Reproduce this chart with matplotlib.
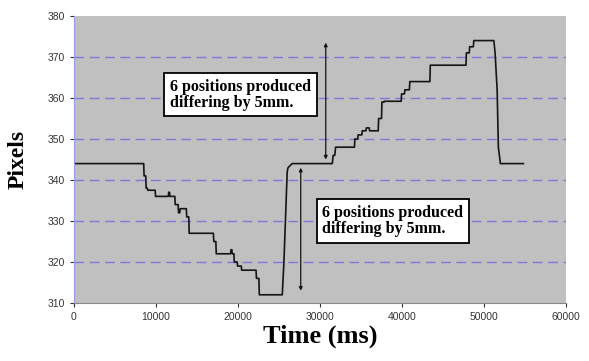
import matplotlib.pyplot as plt

# trace (time in ms, position in pixels)
time_ms = [0, 8500, 8550, 8750, 8800, 8950, 9000, 9900, 9950, 11500, 11550, 11650,
           11700, 12300, 12350, 12700, 12750, 12900, 12950, 13700, 13750, 14000,
           14050, 17000, 17050, 17300, 17350, 19100, 19150, 19250, 19300, 19500,
           19550, 19900, 19950, 20400, 20450, 22200, 22250, 22550, 22600, 25400,
           25600, 25800, 26000, 26100, 26600, 31500, 31600, 31800, 31900, 34200,
           34250, 34600, 34650, 35100, 35150, 35600, 35650, 36000, 36050, 37100,
           37150, 37500, 37550, 37800, 37850, 39900, 39950, 40300, 40350, 40900,
           40950, 43400, 43450, 47800, 47850, 48200, 48250, 48700, 48750, 51200,
           51350, 51600, 51750, 52000, 54800]
pixels = [344, 344, 341, 341, 338, 338, 337.5, 337.5, 336, 336, 337, 337,
          336, 336, 334, 334, 332, 332, 333, 333, 331, 331,
          327, 327, 325, 325, 322, 322, 323, 323, 322, 322,
          320, 320, 319, 319, 318, 318, 316, 316, 312, 312,
          320, 331, 342, 343, 344, 344, 346, 346, 348, 348,
          350, 350, 351, 351, 352, 352, 352.7, 352.7, 352, 352,
          355, 355, 359, 359, 359.2, 359.2, 361, 361, 362, 362,
          364, 364, 368, 368, 371, 371, 372.5, 372.5, 374, 374,
          371, 362, 348, 344, 344]

box_text = "6 positions produced\ndiffering by 5mm."
arrow_up = (30700, 345, 373.5)    # x, bottom, top
arrow_down = (27650, 313, 343)

fig = plt.figure(figsize=(5.89, 3.61), dpi=100)
ax = fig.add_axes([0.1256, 0.1607, 0.8354, 0.795])
ax.set_facecolor('#c0c0c0')

for y in range(320, 371, 10):
    ax.axhline(y, color='#8078d8', linestyle=(0, (7, 4)), linewidth=1.0, zorder=0.5)

ax.plot(time_ms, pixels, color='#151515', lw=1.2)

ax.set_xlim(0, 60000)
ax.set_ylim(310, 380)
ax.set_xticks(range(0, 60001, 10000))
ax.set_yticks(range(310, 381, 10))
ax.tick_params(labelsize=7.5, colors='#333333', length=3, width=0.8)
for lbl in ax.get_xticklabels() + ax.get_yticklabels():
    lbl.set_fontfamily('Liberation Sans')

for s in ['top', 'right']:
    ax.spines[s].set_visible(False)
ax.spines['left'].set_color('#9a9ae0')
ax.spines['bottom'].set_color('#888888')

ax.set_xlabel('Time (ms)', fontsize=19, fontweight='bold', family='Liberation Serif', labelpad=2)
ax.set_ylabel('Pixels', fontsize=17, fontweight='bold', family='Liberation Serif', labelpad=14)

bbox = dict(boxstyle='square,pad=0.35', fc='white', ec='black', lw=1.3)
ax.text(20300, 360.8, box_text, ha='center', va='center', multialignment='left',
        fontsize=11.5, fontweight='bold', family='Liberation Serif', bbox=bbox, linespacing=1.0)
ax.text(38900, 330.0, box_text, ha='center', va='center', multialignment='left',
        fontsize=11.5, fontweight='bold', family='Liberation Serif', bbox=bbox, linespacing=1.0)

for x, lo, hi in [arrow_up, arrow_down]:
    ax.annotate('', xy=(x, hi), xytext=(x, lo),
                arrowprops=dict(arrowstyle='<|-|>', color='#151515', lw=0.9,
                                mutation_scale=5, shrinkA=0, shrinkB=0))

fig.savefig('out.png', dpi=100)
